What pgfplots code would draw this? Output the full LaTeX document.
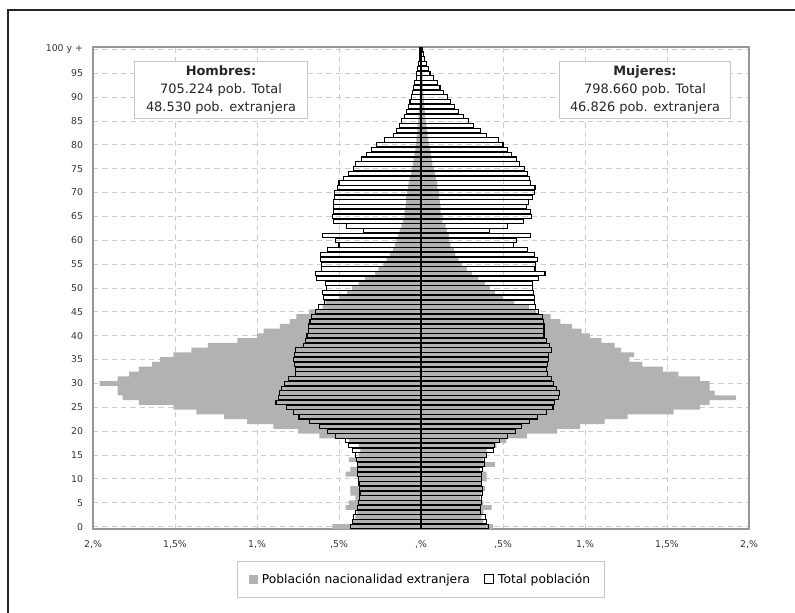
\documentclass[border=0pt]{standalone}
\usepackage{pgfplots}
\pgfplotsset{compat=1.18}
\usepackage{pgfplotstable}
\usepackage{fontspec}
\setmainfont{DejaVu Sans}
\definecolor{fgray}{RGB}{178,178,178}
\definecolor{gridc}{RGB}{205,205,205}
\definecolor{framec}{RGB}{150,150,150}

\pgfplotstableread{
age mt mf ft ff
0 0.430 0.54 0.410 0.44
1 0.420 0.42 0.400 0.38
2 0.410 0.40 0.395 0.37
3 0.400 0.39 0.360 0.38
4 0.390 0.46 0.365 0.43
5 0.380 0.44 0.370 0.38
6 0.376 0.40 0.370 0.36
7 0.372 0.43 0.375 0.37
8 0.376 0.43 0.375 0.39
9 0.378 0.38 0.370 0.37
10 0.380 0.38 0.370 0.40
11 0.388 0.46 0.370 0.40
12 0.390 0.43 0.375 0.36
13 0.390 0.39 0.385 0.45
14 0.396 0.44 0.390 0.38
15 0.400 0.38 0.400 0.40
16 0.420 0.37 0.440 0.40
17 0.443 0.38 0.450 0.46
18 0.463 0.44 0.480 0.52
19 0.520 0.62 0.525 0.645
20 0.570 0.75 0.575 0.83
21 0.620 0.90 0.610 0.97
22 0.680 1.06 0.660 1.12
23 0.744 1.20 0.713 1.26
24 0.778 1.37 0.764 1.54
25 0.820 1.51 0.805 1.70
26 0.884 1.72 0.815 1.76
27 0.870 1.82 0.840 1.92
28 0.860 1.85 0.845 1.79
29 0.850 1.85 0.825 1.76
30 0.830 1.96 0.810 1.76
31 0.810 1.85 0.795 1.70
32 0.768 1.78 0.770 1.57
33 0.768 1.72 0.764 1.475
34 0.774 1.64 0.770 1.35
35 0.778 1.59 0.775 1.27
36 0.774 1.51 0.780 1.30
37 0.765 1.40 0.795 1.22
38 0.717 1.30 0.785 1.18
39 0.707 1.12 0.766 1.10
40 0.695 1.00 0.750 1.03
41 0.687 0.96 0.750 0.98
42 0.687 0.86 0.750 0.92
43 0.677 0.80 0.745 0.85
44 0.667 0.76 0.740 0.79
45 0.646 0.68 0.715 0.70
46 0.625 0.60 0.700 0.66
47 0.590 0.58 0.690 0.57
48 0.595 0.50 0.690 0.50
49 0.600 0.45 0.685 0.45
50 0.575 0.42 0.680 0.42
51 0.580 0.38 0.680 0.39
52 0.635 0.34 0.715 0.35
53 0.645 0.28 0.756 0.31
54 0.605 0.26 0.695 0.28
55 0.605 0.23 0.700 0.25
56 0.610 0.21 0.710 0.23
57 0.610 0.19 0.690 0.21
58 0.570 0.17 0.648 0.20
59 0.500 0.16 0.563 0.18
60 0.520 0.15 0.583 0.17
61 0.600 0.14 0.670 0.17
62 0.350 0.13 0.417 0.16
63 0.457 0.12 0.530 0.15
64 0.535 0.11 0.625 0.13
65 0.540 0.10 0.675 0.13
66 0.535 0.10 0.665 0.12
67 0.535 0.095 0.645 0.12
68 0.535 0.09 0.655 0.115
69 0.530 0.09 0.680 0.11
70 0.530 0.085 0.690 0.11
71 0.510 0.08 0.695 0.10
72 0.500 0.075 0.665 0.10
73 0.470 0.07 0.660 0.09
74 0.440 0.06 0.650 0.085
75 0.410 0.055 0.630 0.08
76 0.400 0.05 0.600 0.07
77 0.360 0.045 0.580 0.065
78 0.330 0.04 0.550 0.06
79 0.300 0.035 0.530 0.055
80 0.270 0.03 0.500 0.05
81 0.220 0.028 0.470 0.045
82 0.165 0.025 0.400 0.04
83 0.150 0.022 0.360 0.037
84 0.130 0.02 0.320 0.034
85 0.118 0.018 0.290 0.03
86 0.100 0.016 0.258 0.027
87 0.087 0.014 0.228 0.024
88 0.075 0.012 0.207 0.02
89 0.067 0.01 0.177 0.018
90 0.057 0.009 0.160 0.016
91 0.050 0.008 0.140 0.014
92 0.043 0.007 0.116 0.012
93 0.037 0.006 0.100 0.011
94 0.030 0.005 0.075 0.01
95 0.026 0.004 0.055 0.008
96 0.020 0.004 0.045 0.007
97 0.016 0.003 0.035 0.006
98 0.012 0.003 0.024 0.005
99 0.008 0.002 0.014 0.004
100 0.006 0.002 0.008 0.004
}\pyr

\begin{document}
\begin{tikzpicture}
\useasboundingbox (0,0) rectangle (596.25pt,459.75pt);
\draw[black!85, line width=1.1pt] (6pt,-2pt) -- (6pt,452.25pt) -- (600pt,452.25pt);
\begin{axis}[
  at={(69.75pt,63pt)}, anchor=south west,
  scale only axis, width=492pt, height=361.5pt,
  xmin=-2, xmax=2, ymin=-0.5, ymax=100.5,
  xbar, bar shift=0pt,
  xtick={-2,-1.5,-1,-0.5,0,0.5,1,1.5,2},
  xticklabels={{2,\%},{1,5\%},{1,\%},{,5\%},{,\%},{,5\%},{1,\%},{1,5\%},{2,\%}},
  ytick={0,5,10,15,20,25,30,35,40,45,50,55,60,65,70,75,80,85,90,95,100},
  yticklabels={0,5,10,15,20,25,30,35,40,45,50,55,60,65,70,75,80,85,90,95,100 y +},
  /pgf/number format/assume math mode=true,
  tick label style={font=\fontsize{7}{8}\selectfont, text=black!80},
  xticklabel style={yshift=-5pt},
  yticklabel style={xshift=-4pt},
  major tick length=0pt,
  grid=major,
  major grid style={gridc, dash pattern=on 4pt off 3pt, line width=0.6pt},
  axis line style={framec, line width=1.2pt},
  legend columns=2,
  legend style={at={(0.5,-0.104)}, anchor=center, draw=gray!45, line width=0.6pt,
    font=\fontsize{9.2}{11}\selectfont, inner xsep=9pt, inner ysep=7pt,
    /tikz/every even column/.append style={column sep=9pt},
    /tikz/every odd column/.append style={column sep=1pt}},
  legend cell align=left,
]
\addplot[fill=fgray, draw=none, bar width=1,
  legend image code/.code={\fill[fgray] (0pt,-3.3pt) rectangle (6.6pt,3.3pt);}]
  table[x expr=-\thisrow{mf}, y=age]{\pyr};
\addlegendentry{Población nacionalidad extranjera}
\addplot[fill=fgray, draw=none, bar width=1, forget plot]
  table[x=ff, y=age]{\pyr};
\addplot[fill=none, draw=black, line width=0.8pt, bar width=0.9,
  legend image code/.code={\draw[black, line width=0.7pt, fill=white] (0pt,-3.3pt) rectangle (6.6pt,3.3pt);}]
  table[x expr=-\thisrow{mt}, y=age]{\pyr};
\addlegendentry{Total población}
\addplot[fill=none, draw=black, line width=0.8pt, bar width=0.9, forget plot]
  table[x=ft, y=age]{\pyr};
\addplot[black, line width=1pt, forget plot, xbar=false, sharp plot]
  coordinates {(0,-0.5) (0,100.5)};
\end{axis}
\node[draw=gray!45, fill=white, line width=0.6pt, minimum width=130pt, minimum height=42pt,
  align=center, font=\fontsize{9.7}{13.5}\selectfont, text=black!85]
  at (165.75pt,392.25pt) {\textbf{Hombres:}\\705.224 pob. Total\\48.530 pob. extranjera};
\node[draw=gray!45, fill=white, line width=0.6pt, minimum width=128pt, minimum height=42pt,
  align=center, font=\fontsize{9.7}{13.5}\selectfont, text=black!85]
  at (483.75pt,392.25pt) {\textbf{Mujeres:}\\798.660 pob. Total\\46.826 pob. extranjera};
\end{tikzpicture}
\end{document}
